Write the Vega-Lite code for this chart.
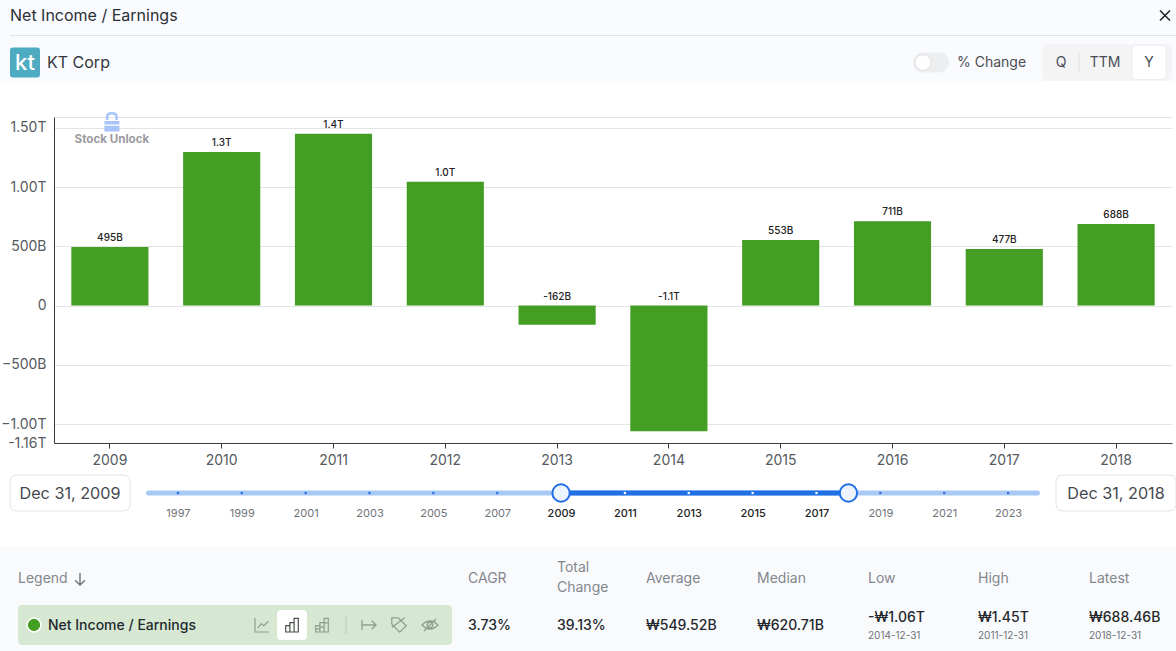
{
"$schema":"https://vega.github.io/schema/vega-lite/v6.json",
"background":"white","padding":0,"spacing":0,"bounds":"flush",
"config":{"font":"Inter","view":{"stroke":null},"text":{"font":"Inter"}},
"datasets":{
"header":[
{"kind":"divider","slot":1,"slotEnd":13,"line":2},
{"kind":"title","label":"Net Income / Earnings","slot":1,"line":1},
{"kind":"logo","slot":2,"line":3},
{"kind":"logotext","label":"kt","slot":2,"line":3},
{"kind":"company","label":"KT Corp","slot":3,"line":4},
{"kind":"track","slot":5,"line":3},
{"kind":"knob","slot":4,"line":3},
{"kind":"option","label":"% Change","slot":6,"line":4},
{"kind":"segment","slot":10,"line":3},
{"kind":"selected","slot":11,"line":3},
{"kind":"sep","slot":8,"line":3},
{"kind":"button","label":"Q","slot":7,"line":4},
{"kind":"button","label":"TTM","slot":9,"line":4},
{"kind":"button","label":"Y","slot":11,"line":4},
{"kind":"close","slot":12,"line":1}
],
"income":[
{"year":"2009","value":495000000000,"label":"495B"},
{"year":"2010","value":1296000000000,"label":"1.3T"},
{"year":"2011","value":1450000000000,"label":"1.4T"},
{"year":"2012","value":1045000000000,"label":"1.0T"},
{"year":"2013","value":-162000000000,"label":"-162B"},
{"year":"2014","value":-1060000000000,"label":"-1.1T"},
{"year":"2015","value":553000000000,"label":"553B"},
{"year":"2016","value":711000000000,"label":"711B"},
{"year":"2017","value":477000000000,"label":"477B"},
{"year":"2018","value":688460000000,"label":"688B"}
],
"range":[{"kind":"all","from":1996.08,"to":2023.92},{"kind":"picked","from":2009,"to":2018}],
"ticks":[{"year":1997},{"year":1999},{"year":2001},{"year":2003},{"year":2005},{"year":2007},{"year":2009},{"year":2011},{"year":2013},{"year":2015},{"year":2017},{"year":2019},{"year":2021},{"year":2023}],
"handles":[{"year":2009},{"year":2018}],
"dates":[{"slot":1,"label":"Dec 31, 2009"},{"slot":2,"label":"Dec 31, 2018"}],
"table":[
{"kind":"pill","slot":4,"line":5},
{"kind":"btn","slot":6,"line":5},
{"kind":"dot","slot":2,"line":5},
{"kind":"name","label":"Net Income / Earnings","slot":3,"line":6},
{"kind":"head","label":"Legend","slot":1,"line":2},
{"kind":"arrow","slot":3.5,"line":2},
{"kind":"head","label":"CAGR","slot":12,"line":2},
{"kind":"head","label":"Total","slot":13,"line":1},
{"kind":"head","label":"Change","slot":13,"line":3},
{"kind":"head","label":"Average","slot":14,"line":2},
{"kind":"head","label":"Median","slot":15,"line":2},
{"kind":"head","label":"Low","slot":16,"line":2},
{"kind":"head","label":"High","slot":17,"line":2},
{"kind":"head","label":"Latest","slot":18,"line":2},
{"kind":"val","label":"3.73%","slot":12,"line":6},
{"kind":"val","label":"39.13%","slot":13,"line":6},
{"kind":"val","label":"₩549.52B","slot":14,"line":6},
{"kind":"val","label":"₩620.71B","slot":15,"line":6},
{"kind":"val","label":"-₩1.06T","slot":16,"line":4},
{"kind":"val","label":"₩1.45T","slot":17,"line":4},
{"kind":"val","label":"₩688.46B","slot":18,"line":4},
{"kind":"sub","label":"2014-12-31","slot":16,"line":7},
{"kind":"sub","label":"2011-12-31","slot":17,"line":7},
{"kind":"sub","label":"2018-12-31","slot":18,"line":7},
{"kind":"i1","slot":5,"line":5},
{"kind":"i2","slot":6,"line":5},
{"kind":"i3","slot":7,"line":5},
{"kind":"i4","slot":8,"line":5},
{"kind":"i5","slot":9,"line":5},
{"kind":"i6","slot":10,"line":5},
{"kind":"i7","slot":11,"line":5}
]
},
"vconcat":[
{
"width":1176,"height":81,"view":{"fill":"#fafbfe","stroke":null},
"data":{"name":"header"},
"encoding":{
"x":{"field":"slot","type":"quantitative","axis":null,"scale":{"domain":[1,2,3,4,5,6,7,8,9,10,11,12,13],"range":[10,25,47,923,931,957,1061,1079,1105,1107,1149,1165,1176],"nice":false,"zero":false}},
"y":{"field":"line","type":"quantitative","axis":null,"scale":{"domain":[1,2,3,4],"range":[15.5,35.5,62.5,63],"nice":false,"zero":false}}
},
"layer":[
{"transform":[{"filter":"datum.kind=='divider'"}],"mark":{"type":"rule","color":"#e2e4e8","strokeWidth":1},"encoding":{"x2":{"field":"slotEnd"}}},
{"transform":[{"filter":"datum.kind=='title'"}],"mark":{"type":"text","align":"left","baseline":"middle","fontSize":16,"fontWeight":400,"color":"#2b2f36"},"encoding":{"text":{"field":"label"}}},
{"transform":[{"filter":"datum.kind=='logo'"}],"mark":{"type":"point","filled":true,"opacity":1,"color":"#4fabc2","size":900,"shape":"M-.8,-1H.8Q1,-1 1,-.8V.8Q1,1 .8,1H-.8Q-1,1 -1,.8V-.8Q-1,-1 -.8,-1Z"}},
{"transform":[{"filter":"datum.kind=='logotext'"}],"mark":{"type":"text","align":"center","baseline":"middle","fontSize":22,"fontWeight":500,"color":"white"},"encoding":{"text":{"field":"label"}}},
{"transform":[{"filter":"datum.kind=='company'"}],"mark":{"type":"text","align":"left","baseline":"middle","fontSize":16,"color":"#33373d"},"encoding":{"text":{"field":"label"}}},
{"transform":[{"filter":"datum.kind=='track'"}],"mark":{"type":"point","filled":true,"opacity":1,"color":"#eceef0","size":1296,"shape":"M-.45,-.55H.45A.55,.55 0 0 1 .45,.55H-.45A.55,.55 0 0 1 -.45,-.55Z"}},
{"transform":[{"filter":"datum.kind=='knob'"}],"mark":{"type":"point","filled":true,"opacity":1,"fill":"white","stroke":"#e0e0e0","strokeWidth":1,"size":254,"shape":"circle"}},
{"transform":[{"filter":"datum.kind=='option'"}],"mark":{"type":"text","align":"left","baseline":"middle","fontSize":14,"color":"#4a4e55"},"encoding":{"text":{"field":"label"}}},
{"transform":[{"filter":"datum.kind=='segment'"}],"mark":{"type":"point","filled":true,"opacity":1,"color":"#f4f4f5","size":16900,"shape":"M-.9,-.285H.9Q1,-.285 1,-.185V.185Q1,.285 .9,.285H-.9Q-1,.285 -1,.185V-.185Q-1,-.285 -.9,-.285Z"}},
{"transform":[{"filter":"datum.kind=='selected'"}],"mark":{"type":"point","filled":true,"opacity":1,"fill":"white","stroke":"#eeeeef","strokeWidth":1,"size":1156,"shape":"M-.75,-1H.75Q1,-1 1,-.75V.75Q1,1 .75,1H-.75Q-1,1 -1,.75V-.75Q-1,-1 -.75,-1Z"}},
{"transform":[{"filter":"datum.kind=='sep'"}],"mark":{"type":"point","filled":false,"opacity":1,"stroke":"#dddddf","strokeWidth":1,"size":400,"shape":"M0,-1V1"}},
{"transform":[{"filter":"datum.kind=='button'"}],"mark":{"type":"text","align":"center","baseline":"middle","fontSize":14,"color":"#4a4e55"},"encoding":{"text":{"field":"label"}}},
{"transform":[{"filter":"datum.kind=='close'"}],"mark":{"type":"point","filled":false,"opacity":1,"stroke":"#22262b","strokeWidth":1.6,"size":100,"shape":"M-1,-1L1,1M-1,1L1,-1"}}
]
},
{
"width":1176,"height":362,
"data":{"name":"income"},
"encoding":{
"x":{"field":"year","type":"nominal","sort":null,"scale":{"range":[54,1172],"paddingInner":0.31,"paddingOuter":0.155},"axis":{"title":null,"labelAngle":0,"grid":false,"domainColor":"#3a3a3a","tickColor":"#3a3a3a","tickSize":5,"labelFontSize":14,"labelColor":"#555a60","labelPadding":5,"labelFont":"Inter"}}
},
"layer":[
{"mark":{"type":"bar","color":"#439e23"},"encoding":{"y":{"field":"value","type":"quantitative","scale":{"domain":[-1160000000000,1592000000000],"range":[362,36],"nice":false,"zero":false},"axis":{"title":null,"offset":-54,"values":[-1160000000000,-1000000000000,-500000000000,0,500000000000,1000000000000,1500000000000,1592000000000],"grid":true,"gridColor":"#e3e4e6","ticks":false,"domainColor":"#3a3a3a","labelFontSize":14,"labelColor":"#555a60","labelPadding":8,"labelFont":"Inter","labelExpr":"datum.value>1.55e12?'':datum.value==-1.16e12?'-1.16T':abs(datum.value)>=1e12?format(datum.value/1e12,'.2f')+'T':datum.value==0?'0':format(datum.value/1e9,'d')+'B'"}}}},
{"transform":[{"filter":"datum.value>=0"}],"mark":{"type":"text","baseline":"bottom","dy":-4,"fontSize":10,"fontWeight":500,"color":"#222"},"encoding":{"y":{"field":"value","type":"quantitative"},"text":{"field":"label"}}},
{"transform":[{"filter":"datum.value<0"}],"mark":{"type":"text","baseline":"bottom","dy":-4,"fontSize":10,"fontWeight":500,"color":"#222"},"encoding":{"y":{"datum":0,"type":"quantitative"},"text":{"field":"label"}}},
{"data":{"values":[{"note":"Stock Unlock"}]},"mark":{"type":"text","dx":2,"baseline":"middle","fontSize":11.6,"fontWeight":700,"color":"#9b9b9f"},"encoding":{"x":{"datum":"2009","type":"nominal"},"y":{"datum":1397000000000,"type":"quantitative"},"text":{"field":"note"}}},
{"data":{"values":[{"note":"Stock Unlock"}]},"mark":{"type":"point","filled":true,"opacity":1,"color":"#a8c4f8","size":400,"shape":"M-.4,-.2V-.5Q-.4,-1 .2,-1Q.8,-1 .8,-.5V-.2H.55V-.5Q.55,-.75 .2,-.75Q-.15,-.75 -.15,-.5V-.2ZM-.55,-.1H.95V.25H-.55ZM-.55,.38H.95V.95H-.55Z"},"encoding":{"x":{"datum":"2009","type":"nominal"},"y":{"datum":1550000000000,"type":"quantitative"}}}
]
},
{
"width":1176,"height":103,
"resolve":{"scale":{"x":"independent"},"axis":{"x":"independent"}},
"layer":[
{"data":{"name":"range"},"transform":[{"filter":"datum.kind=='all'"}],"mark":{"type":"rule","color":"#a8c8f5","strokeWidth":5,"strokeCap":"round"},"encoding":{"x":{"field":"from","type":"quantitative","axis":null,"scale":{"domain":[1996,2024],"range":[146,1040],"nice":false,"zero":false}},"x2":{"field":"to"},"yOffset":{"value":-1.5}}},
{"data":{"name":"range"},"transform":[{"filter":"datum.kind=='picked'"}],"mark":{"type":"rule","color":"#1f6fe5","strokeWidth":5},"encoding":{"x":{"field":"from","type":"quantitative","axis":null,"scale":{"domain":[1996,2024],"range":[146,1040],"nice":false,"zero":false}},"x2":{"field":"to"},"yOffset":{"value":-1.5}}},
{"data":{"name":"ticks"},"mark":{"type":"point","filled":true,"opacity":1,"size":5,"shape":"square"},"encoding":{"x":{"field":"year","type":"quantitative","scale":{"domain":[1996,2024],"range":[146,1040],"nice":false,"zero":false},"axis":{"title":null,"orient":"bottom","offset":-33,"grid":false,"domain":false,"ticks":false,"labelPadding":0,"labelBaseline":"middle","labelFontSize":11,"labelOverlap":false,"values":[1997,1999,2001,2003,2005,2007,2009,2011,2013,2015,2017,2019,2021,2023],"format":"d","labelColor":{"condition":{"test":"datum.value>=2009 && datum.value<=2018","value":"#222"},"value":"#6f7378"},"labelFontWeight":{"condition":{"test":"datum.value>=2009 && datum.value<=2018","value":500},"value":400}}},"yOffset":{"value":-1.5},"color":{"condition":{"test":"datum.year>=2009 && datum.year<=2018","value":"white"},"value":"#2e6fe0"}}},
{"data":{"name":"handles"},"mark":{"type":"point","filled":true,"opacity":1,"fill":"#eef4fd","stroke":"#1f6fe5","strokeWidth":2,"size":300,"shape":"circle"},"encoding":{"x":{"field":"year","type":"quantitative","axis":null,"scale":{"domain":[1996,2024],"range":[146,1040],"nice":false,"zero":false}},"yOffset":{"value":-1.5}}},
{"data":{"name":"dates"},"mark":{"type":"point","filled":true,"opacity":1,"fill":"white","stroke":"#e3e3e5","strokeWidth":1,"size":14400,"shape":"M-.88,-.3H.88Q1,-.3 1,-.18V.18Q1,.3 .88,.3H-.88Q-1,.3 -1,.18V-.18Q-1,-.3 -.88,-.3Z"},"encoding":{"x":{"field":"slot","type":"quantitative","axis":null,"scale":{"domain":[1,2],"range":[70,1116],"nice":false,"zero":false}},"yOffset":{"value":-1.5}}},
{"data":{"name":"dates"},"mark":{"type":"text","align":"center","baseline":"middle","fontSize":16.2,"color":"#45494f"},"encoding":{"x":{"field":"slot","type":"quantitative","axis":null,"scale":{"domain":[1,2],"range":[70,1116],"nice":false,"zero":false}},"yOffset":{"value":-0.5},"text":{"field":"label"}}}
]
},
{
"width":1176,"height":105,"view":{"fill":"#f9fafc","stroke":null},
"data":{"name":"table"},
"encoding":{
"x":{"field":"slot","type":"quantitative","axis":null,"scale":{"domain":[1,2,3,3.5,4,5,6,7,8,9,10,11,12,13,14,15,16,17,18],"range":[18,34,48,80,235,262,292,322,346,369,399,430,468,557,646,757,868,978,1089],"nice":false,"zero":false}},
"y":{"field":"line","type":"quantitative","axis":null,"scale":{"domain":[1,2,3,4,5,6,7],"range":[22,33,42,72,79,80,90],"nice":false,"zero":false}}
},
"layer":[
{"transform":[{"filter":"datum.kind=='pill'"}],"mark":{"type":"point","filled":true,"opacity":1,"color":"#d6e8d2","size":188356,"shape":"M-.98,-.092H.98Q1,-.092 1,-.072V.072Q1,.092 .98,.092H-.98Q-1,.092 -1,.072V-.072Q-1,-.092 -.98,-.092Z"}},
{"transform":[{"filter":"datum.kind=='btn'"}],"mark":{"type":"point","filled":true,"opacity":1,"color":"white","size":900,"shape":"M-.7,-1H.7Q1,-1 1,-.7V.7Q1,1 .7,1H-.7Q-1,1 -1,.7V-.7Q-1,-1 -.7,-1Z"}},
{"transform":[{"filter":"datum.kind=='dot'"}],"mark":{"type":"point","filled":true,"opacity":1,"fill":"#439e23","stroke":"white","strokeWidth":1.5,"size":190,"shape":"circle"}},
{"transform":[{"filter":"datum.kind=='name'"}],"mark":{"type":"text","align":"left","baseline":"middle","fontSize":14,"fontWeight":500,"color":"#24282d"},"encoding":{"text":{"field":"label"}}},
{"transform":[{"filter":"datum.kind=='head'"}],"mark":{"type":"text","align":"left","baseline":"middle","fontSize":14,"color":"#83878d"},"encoding":{"text":{"field":"label"}}},
{"transform":[{"filter":"datum.kind=='arrow'"}],"mark":{"type":"point","filled":false,"opacity":1,"stroke":"#6f7378","strokeWidth":1.4,"size":144,"shape":"M0,-1V1M-.8,.2L0,1L.8,.2"}},
{"transform":[{"filter":"datum.kind=='val'"}],"mark":{"type":"text","align":"left","baseline":"middle","fontSize":14,"fontWeight":500,"color":"#24282d"},"encoding":{"text":{"field":"label"}}},
{"transform":[{"filter":"datum.kind=='sub'"}],"mark":{"type":"text","align":"left","baseline":"middle","fontSize":10,"color":"#6f7378"},"encoding":{"text":{"field":"label"}}},
{"transform":[{"filter":"datum.kind=='i1'"}],"mark":{"type":"point","filled":false,"opacity":1,"stroke":"#8ea08a","strokeWidth":1.2,"size":196,"shape":"M-1,-1V1H1M-.6,.4L-.1,-.2L.25,.1L.9,-.5"}},
{"transform":[{"filter":"datum.kind=='i2'"}],"mark":{"type":"point","filled":false,"opacity":1,"stroke":"#4a5248","strokeWidth":1.2,"size":196,"shape":"M-.9,1V.1H-.3V1ZM-.3,1V-.35H.3V1ZM.3,1V-.95H.9V1Z"}},
{"transform":[{"filter":"datum.kind=='i3'"}],"mark":{"type":"point","filled":false,"opacity":1,"stroke":"#8ea08a","strokeWidth":1.2,"size":196,"shape":"M-.9,1V.1H-.3V1ZM-.3,1V-.35H.3V1ZM.3,1V-.95H.9V1ZM-.9,.55H-.3M-.3,.3H.3M.3,-.3H.9"}},
{"transform":[{"filter":"datum.kind=='i4'"}],"mark":{"type":"point","filled":false,"opacity":1,"stroke":"#b9c8b5","strokeWidth":1,"size":324,"shape":"M0,-1V1"}},
{"transform":[{"filter":"datum.kind=='i5'"}],"mark":{"type":"point","filled":false,"opacity":1,"stroke":"#8ea08a","strokeWidth":1.3,"size":196,"shape":"M-1,-.7V.7M-1,0H1M.4,-.6L1,0L.4,.6"}},
{"transform":[{"filter":"datum.kind=='i6'"}],"mark":{"type":"point","filled":false,"opacity":1,"stroke":"#8ea08a","strokeWidth":1.3,"size":256,"shape":"M-.9,-.9H-.1L.9,.1L.1,.9L-.9,-.1ZM-.9,.3L.7,-.9"}},
{"transform":[{"filter":"datum.kind=='i7'"}],"mark":{"type":"point","filled":false,"opacity":1,"stroke":"#8ea08a","strokeWidth":1.3,"size":256,"shape":"M-1,0Q0,-1 1,0Q0,1 -1,0ZM-.35,0A.35,.35 0 1 1 .35,0A.35,.35 0 1 1 -.35,0ZM-.75,.75L.75,-.75"}}
]
}
]
}
